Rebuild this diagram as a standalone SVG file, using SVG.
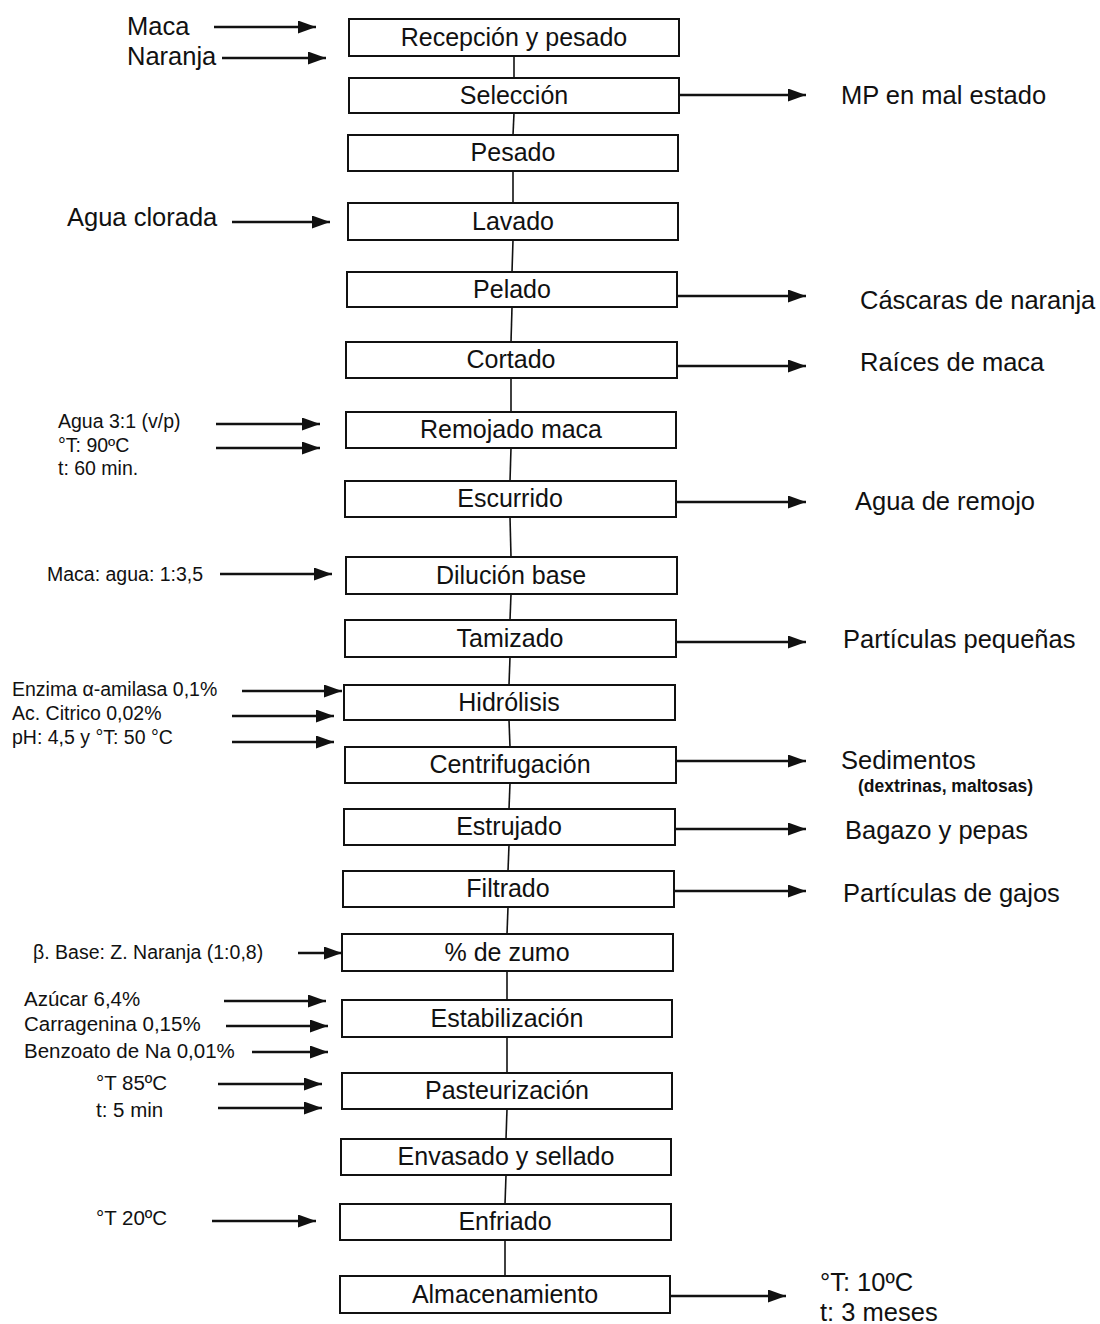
<svg xmlns="http://www.w3.org/2000/svg" width="1100" height="1324" viewBox="0 0 1100 1324">
<style>
.box{fill:#fff;stroke:#111;stroke-width:2}
.bt{font-family:"Liberation Sans",Arial,sans-serif;font-size:25px;fill:#111;text-anchor:middle}
.lt{font-family:"Liberation Sans",Arial,sans-serif;font-size:25.5px;fill:#111}
.st{font-family:"Liberation Sans",Arial,sans-serif;font-size:19.5px;fill:#111}
.mt{font-family:"Liberation Sans",Arial,sans-serif;font-size:20.5px;fill:#111}
.xs{font-family:"Liberation Sans",Arial,sans-serif;font-size:17.5px;font-weight:bold;fill:#111}
.ln{stroke:#111;stroke-width:1.6;fill:none}
.ar{stroke:#111;stroke-width:2.6;fill:none;marker-end:url(#ah)}
</style>
<defs>
<marker id="ah" viewBox="0 0 18 13" refX="18" refY="6.5" markerWidth="18" markerHeight="13" markerUnits="userSpaceOnUse" orient="auto">
<path d="M0,0 L18,6.5 L0,13 z" fill="#111"/>
</marker>
</defs>
<rect width="1100" height="1324" fill="#fff"/>
<g id="connectors">
<line class="ln" x1="514" y1="56" x2="514" y2="78"/>
<line class="ln" x1="514" y1="113" x2="513" y2="135"/>
<line class="ln" x1="513" y1="171" x2="513" y2="203"/>
<line class="ln" x1="513" y1="240" x2="512" y2="272"/>
<line class="ln" x1="512" y1="307" x2="511" y2="342"/>
<line class="ln" x1="511" y1="378" x2="511" y2="412"/>
<line class="ln" x1="511" y1="448" x2="510" y2="481"/>
<line class="ln" x1="510" y1="517" x2="511" y2="557"/>
<line class="ln" x1="511" y1="594" x2="510" y2="620"/>
<line class="ln" x1="510" y1="657" x2="509" y2="685"/>
<line class="ln" x1="509" y1="720" x2="510" y2="747"/>
<line class="ln" x1="510" y1="783" x2="509" y2="809"/>
<line class="ln" x1="509" y1="845" x2="508" y2="871"/>
<line class="ln" x1="508" y1="907" x2="507" y2="934"/>
<line class="ln" x1="507" y1="971" x2="507" y2="1000"/>
<line class="ln" x1="507" y1="1037" x2="507" y2="1073"/>
<line class="ln" x1="507" y1="1109" x2="506" y2="1139"/>
<line class="ln" x1="506" y1="1175" x2="505" y2="1204"/>
<line class="ln" x1="505" y1="1240" x2="505" y2="1276"/>
<line class="ar" x1="214" y1="27" x2="316" y2="27"/>
<line class="ar" x1="222" y1="58" x2="326" y2="58"/>
<line class="ar" x1="232" y1="222" x2="330" y2="222"/>
<line class="ar" x1="216" y1="424" x2="320" y2="424"/>
<line class="ar" x1="216" y1="448" x2="320" y2="448"/>
<line class="ar" x1="220" y1="574" x2="332" y2="574"/>
<line class="ar" x1="242" y1="691" x2="342" y2="691"/>
<line class="ar" x1="232" y1="716" x2="334" y2="716"/>
<line class="ar" x1="232" y1="742" x2="334" y2="742"/>
<line class="ar" x1="298" y1="953" x2="342" y2="953"/>
<line class="ar" x1="224" y1="1001" x2="326" y2="1001"/>
<line class="ar" x1="226" y1="1026" x2="328" y2="1026"/>
<line class="ar" x1="252" y1="1052" x2="328" y2="1052"/>
<line class="ar" x1="218" y1="1084" x2="322" y2="1084"/>
<line class="ar" x1="218" y1="1108" x2="322" y2="1108"/>
<line class="ar" x1="212" y1="1221" x2="316" y2="1221"/>
<line class="ar" x1="679" y1="95" x2="806" y2="95"/>
<line class="ar" x1="677" y1="296" x2="806" y2="296"/>
<line class="ar" x1="677" y1="366" x2="806" y2="366"/>
<line class="ar" x1="676" y1="502" x2="806" y2="502"/>
<line class="ar" x1="676" y1="642" x2="806" y2="642"/>
<line class="ar" x1="676" y1="761" x2="806" y2="761"/>
<line class="ar" x1="675" y1="829" x2="806" y2="829"/>
<line class="ar" x1="674" y1="891" x2="806" y2="891"/>
<line class="ar" x1="670" y1="1296" x2="786" y2="1296"/>
</g>
<g id="n1"><rect class="box" x="349" y="19" width="330" height="37"/><text class="bt" x="514" y="46">Recepción y pesado</text></g>
<g id="n2"><rect class="box" x="349" y="78" width="330" height="35"/><text class="bt" x="514" y="104">Selección</text></g>
<g id="n3"><rect class="box" x="348" y="135" width="330" height="36"/><text class="bt" x="513" y="161">Pesado</text></g>
<g id="n4"><rect class="box" x="348" y="203" width="330" height="37"/><text class="bt" x="513" y="230">Lavado</text></g>
<g id="n5"><rect class="box" x="347" y="272" width="330" height="35"/><text class="bt" x="512" y="298">Pelado</text></g>
<g id="n6"><rect class="box" x="346" y="342" width="331" height="36"/><text class="bt" x="511" y="368">Cortado</text></g>
<g id="n7"><rect class="box" x="346" y="412" width="330" height="36"/><text class="bt" x="511" y="438">Remojado maca</text></g>
<g id="n8"><rect class="box" x="345" y="481" width="331" height="36"/><text class="bt" x="510" y="507">Escurrido</text></g>
<g id="n9"><rect class="box" x="346" y="557" width="331" height="37"/><text class="bt" x="511" y="584">Dilución base</text></g>
<g id="n10"><rect class="box" x="345" y="620" width="331" height="37"/><text class="bt" x="510" y="647">Tamizado</text></g>
<g id="n11"><rect class="box" x="344" y="685" width="331" height="35"/><text class="bt" x="509" y="711">Hidrólisis</text></g>
<g id="n12"><rect class="box" x="345" y="747" width="331" height="36"/><text class="bt" x="510" y="773">Centrifugación</text></g>
<g id="n13"><rect class="box" x="344" y="809" width="331" height="36"/><text class="bt" x="509" y="835">Estrujado</text></g>
<g id="n14"><rect class="box" x="343" y="871" width="331" height="36"/><text class="bt" x="508" y="897">Filtrado</text></g>
<g id="n15"><rect class="box" x="342" y="934" width="331" height="37"/><text class="bt" x="507" y="961">% de zumo</text></g>
<g id="n16"><rect class="box" x="342" y="1000" width="330" height="37"/><text class="bt" x="507" y="1027">Estabilización</text></g>
<g id="n17"><rect class="box" x="342" y="1073" width="330" height="36"/><text class="bt" x="507" y="1099">Pasteurización</text></g>
<g id="n18"><rect class="box" x="341" y="1139" width="330" height="36"/><text class="bt" x="506" y="1165">Envasado y sellado</text></g>
<g id="n19"><rect class="box" x="340" y="1204" width="331" height="36"/><text class="bt" x="505" y="1230">Enfriado</text></g>
<g id="n20"><rect class="box" x="340" y="1276" width="330" height="37"/><text class="bt" x="505" y="1303">Almacenamiento</text></g>
<g id="labels">
<text class="lt" x="127" y="35">Maca</text>
<text class="lt" x="127" y="65">Naranja</text>
<text class="lt" x="67" y="226">Agua clorada</text>
<text class="st" x="58" y="428">Agua 3:1 (v/p)</text>
<text class="st" x="58" y="452">°T: 90ºC</text>
<text class="st" x="58" y="475">t: 60 min.</text>
<text class="st" x="47" y="581">Maca: agua: 1:3,5</text>
<text class="st" x="12" y="696">Enzima α-amilasa 0,1%</text>
<text class="st" x="12" y="720">Ac. Citrico 0,02%</text>
<text class="st" x="12" y="744">pH: 4,5 y °T: 50 °C</text>
<text class="st" x="33" y="959">β. Base: Z. Naranja (1:0,8)</text>
<text class="mt" x="24" y="1006">Azúcar 6,4%</text>
<text class="mt" x="24" y="1031">Carragenina 0,15%</text>
<text class="mt" x="24" y="1058">Benzoato de Na 0,01%</text>
<text class="mt" x="96" y="1090">°T 85ºC</text>
<text class="mt" x="96" y="1117">t: 5 min</text>
<text class="mt" x="96" y="1225">°T 20ºC</text>
<text class="lt" x="841" y="104">MP en mal estado</text>
<text class="lt" x="860" y="309">Cáscaras de naranja</text>
<text class="lt" x="860" y="371">Raíces de maca</text>
<text class="lt" x="855" y="510">Agua de remojo</text>
<text class="lt" x="843" y="648">Partículas pequeñas</text>
<text class="lt" x="841" y="769">Sedimentos</text>
<text class="xs" x="858" y="792">(dextrinas, maltosas)</text>
<text class="lt" x="845" y="839">Bagazo y pepas</text>
<text class="lt" x="843" y="902">Partículas de gajos</text>
<text class="lt" x="820" y="1291">°T: 10ºC</text>
<text class="lt" x="820" y="1321">t: 3 meses</text>
</g>
</svg>
